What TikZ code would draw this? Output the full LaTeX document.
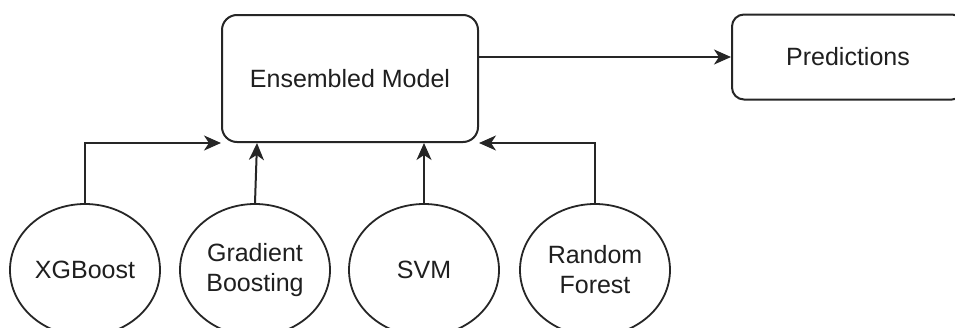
\documentclass[tikz,border=0pt]{standalone}
\usepackage{fontspec}
\setmainfont{Liberation Sans}
\usetikzlibrary{shapes.geometric,arrows.meta}
\begin{document}
\begin{tikzpicture}[x=1pt,y=-1pt,
  every node/.style={font=\fontsize{25}{30}\selectfont, text=black!88},
  box/.style={draw=black!85, line width=2pt, rounded corners=15pt, inner sep=0pt},
  algo/.style={draw=black!85, line width=1.8pt, ellipse, minimum width=150pt, minimum height=132pt, inner sep=0pt, align=center},
  link/.style={draw=black!85, line width=2pt, -{Stealth[length=17pt,width=15pt,inset=5pt]}}
]
\clip (0,0) rectangle (955,327);
\fill[white] (0,0) rectangle (955,327);

\node[box, minimum width=256pt, minimum height=127pt] (ens) at (350,78.5) {Ensembled Model};
\node[box, rounded corners=12pt, minimum width=232pt, minimum height=85pt] (pred) at (848,57) {Predictions};

\node[algo] (xgb) at (85,270) {XGBoost};
\node[algo] (gb)  at (255,270) {Gradient\\Boosting};
\node[algo] (svm) at (424,270) {SVM};
\node[algo] (rf)  at (595,270) {Random\\Forest};

\coordinate (gbin) at ([xshift=2pt]ens.south west -| gb.north);

\draw[link] (ens.east |- pred.west) -- (pred.west);
\draw[link] (xgb.north) |- (ens.south west);
\draw[link] (gb.north) -- (gbin);
\draw[link] (svm.north) -- (svm.north |- ens.south);
\draw[link] (rf.north) |- (ens.south east);
\end{tikzpicture}
\end{document}
